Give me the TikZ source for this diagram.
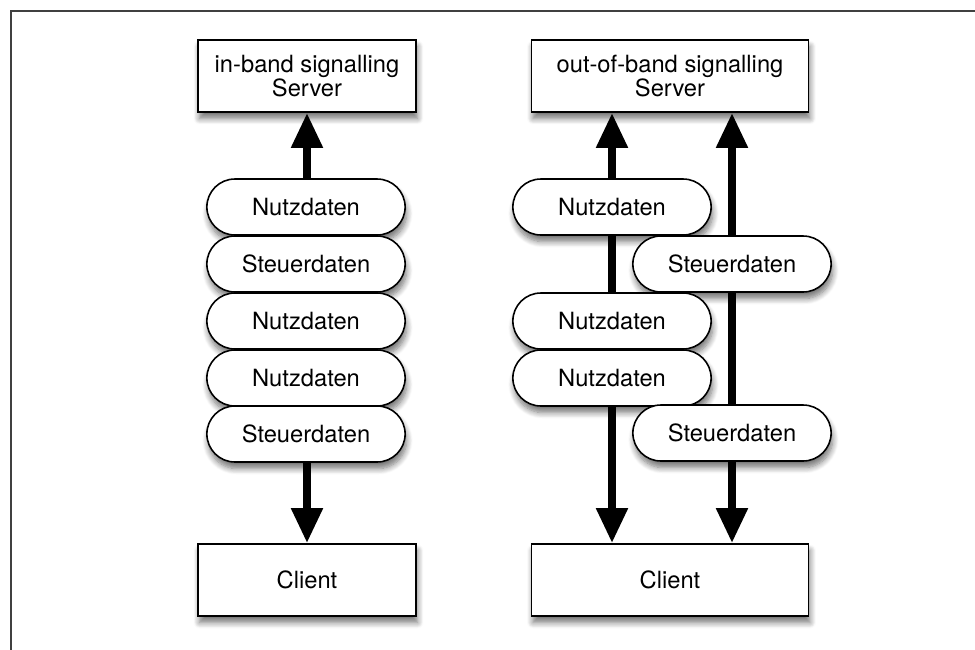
\documentclass[tikz,border=0pt]{standalone}
\usepackage{fontspec}
\setmainfont{TeX Gyre Heros}
\usetikzlibrary{arrows.meta,shapes.misc,shadows.blur,backgrounds}

\tikzset{
  box/.style={draw, line width=1pt, fill=white, minimum height=1.44cm, align=center,
    font=\fontsize{13.5}{14}\selectfont,
    blur shadow={shadow xshift=0.3mm, shadow yshift=-1.3mm, shadow blur steps=8, shadow blur radius=1.2mm, shadow opacity=55}},
  pill/.style={rounded rectangle, draw, line width=0.9pt, fill=white,
    minimum width=4.2cm, minimum height=1.12cm, font=\fontsize{13.5}{14}\selectfont,
    blur shadow={shadow xshift=0.3mm, shadow yshift=-1.3mm, shadow blur steps=8, shadow blur radius=1.2mm, shadow opacity=55}},
  flow/.style={line width=0.16cm,
    {Triangle[length=0.7cm,width=0.6cm]}-{Triangle[length=0.7cm,width=0.6cm]}}
}

\begin{document}
\begin{tikzpicture}[x=0.02cm,y=-0.02cm]
  \useasboundingbox (0,0) rectangle (975,650);
  % frame
  \draw[line width=0.8pt, black!75] (11,650) -- (11,11) -- (975,11);

  % in-band
  \node[box, minimum width=4.36cm] (srvL) at (307,76) {in-band signalling\\Server};
  \node[box, minimum width=4.36cm] (cliL) at (307,580) {Client};
  \foreach \y/\t [count=\i] in {207/Nutzdaten, 264/Steuerdaten, 321/Nutzdaten, 378/Nutzdaten, 434/Steuerdaten}
    \node[pill] (pL\i) at (306,\y) {\t};

  % out-of-band
  \node[box, minimum width=5.54cm] (srvR) at (670,76) {out-of-band signalling\\Server};
  \node[box, minimum width=5.54cm] (cliR) at (670,580) {Client};
  \node[pill] (nR1) at (612,207) {Nutzdaten};
  \node[pill] (sR1) at (732,264) {Steuerdaten};
  \node[pill] (nR2) at (612,321) {Nutzdaten};
  \node[pill] (nR3) at (612,378) {Nutzdaten};
  \node[pill] (sR2) at (732,433) {Steuerdaten};

  \begin{scope}[on background layer]
    \draw[flow] (cliL) -- (srvL);
    \draw[flow] (cliR.north -| nR1) -- (srvR.south -| nR1);
    \draw[flow] (cliR.north -| sR1) -- (srvR.south -| sR1);
  \end{scope}
\end{tikzpicture}
\end{document}
